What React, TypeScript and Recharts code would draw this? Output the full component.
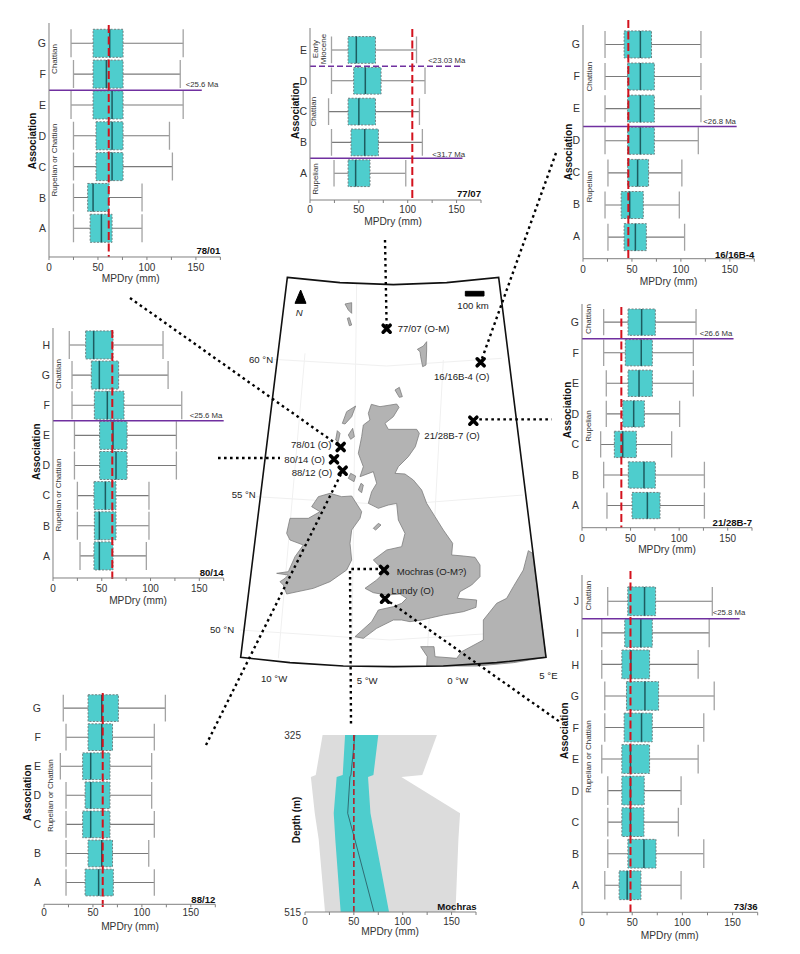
import { Area, Bar, ComposedChart, Line, ReferenceLine, Scatter, ScatterChart, XAxis, YAxis } from 'recharts';

const TEAL = '#4ecdcd';
const RED = '#d3121d';
const PURPLE = '#7030a0';
const FONT = '"Liberation Sans", Arial, sans-serif';
const xTicks = [0, 25, 50, 75, 100, 125, 150, 175];

const cats7 = ['A', 'B', 'C', 'D', 'E', 'F', 'G'];

// 78/01
const lo7801 = [25, 25, 25, 25, 22.5, 25, 22.5];
const q17801 = [42, 39.5, 48, 48, 45, 45, 45];
const med7801 = [53.5, 45, 64.4, 64.4, 64.4, 58.6, 62];
const q37801 = [64.4, 61.3, 75.6, 75.6, 75.6, 75.6, 75.6];
const hi7801 = [95, 95, 126, 123, 137, 134, 137];

// 77/07
const cats7707 = ['A', 'B', 'C', 'D', 'E'];
const lo7707 = [24.6, 22, 19, 22, 22];
const q17707 = [39, 42, 39, 44.7, 39];
const med7707 = [46.7, 56, 50, 56.6, 47.4];
const q37707 = [61.4, 70, 67, 72.7, 67];
const hi7707 = [98, 115, 112, 117.7, 109];

// 16/16B-4
const lo1616 = [25.5, 22.5, 25.5, 22.5, 22.5, 22.5, 22.5];
const q11616 = [42, 39, 45.6, 45.6, 45.6, 45.6, 42];
const med1616 = [53.5, 47.7, 55.8, 58.6, 58.6, 58.6, 58.6];
const q31616 = [64.7, 61.6, 67, 72.9, 72.9, 72.9, 70];
const hi1616 = [103.8, 98.4, 101, 117.8, 120.5, 120.5, 120.5];

// 80/14
const cats8014 = ['A', 'B', 'C', 'D', 'E', 'F', 'G', 'H'];
const lo8014 = [27.7, 25, 25, 22, 22, 19.5, 19.5, 16.7];
const q18014 = [42, 42.4, 42, 47.8, 47.8, 42.4, 39.3, 33.5];
const med8014 = [47.5, 47.5, 53.7, 64.6, 61.5, 55.7, 47.5, 41.7];
const q38014 = [61.5, 64.6, 64.6, 75.9, 75.9, 72.8, 67.3, 61.5];
const hi8014 = [95.7, 98.4, 98.4, 126.5, 126.5, 132, 118, 112.8];

// 21/28B-7
const lo2128 = [25.7, 22.3, 19.2, 25, 25, 22.3, 22.3];
const q12128 = [51.5, 47.7, 33.3, 41.9, 47.4, 44.6, 47.4];
const med2128 = [67.3, 63.8, 41.9, 53.2, 58.7, 61, 61.4];
const q32128 = [80.3, 75.5, 56, 64.2, 72.4, 72.4, 75.5];
const hi2128 = [126, 126, 92.3, 100.5, 114.6, 114.6, 117.4];

// 88/12
const lo8812 = [22.5, 22.5, 22.5, 22.5, 16.7, 22.5, 19.7];
const q18812 = [42, 45, 39.5, 42, 39.5, 45, 45];
const med8812 = [55.8, 59, 47.7, 47.7, 47.7, 59, 59];
const q38812 = [70.8, 70, 67.4, 67.4, 67.4, 70, 76];
const hi8812 = [112.7, 107, 112.7, 110, 110, 112.7, 124];

// 73/36
const cats7336 = ['A', 'B', 'C', 'D', 'E', 'F', 'G', 'H', 'I', 'J'];
const lo7336 = [22.7, 25.7, 25.7, 25.7, 19.7, 22.7, 22.7, 19.7, 19.7, 25.6];
const q17336 = [37, 45.7, 39.7, 39.7, 39.7, 42, 44.3, 39.7, 42.6, 45.6];
const med7336 = [45, 61.7, 48.3, 48.3, 48.3, 59.3, 62.7, 48.7, 58.6, 62.3];
const q37336 = [58.7, 73.7, 61.7, 62, 67.3, 70, 76.3, 67.3, 70, 73.3];
const hi7336 = [98.7, 121.3, 96, 98.7, 115.7, 121.3, 131.7, 115.7, 126.7, 129.8];

// Mochras depth profile
const mochrasDepth = [325, 368, 370, 409, 437, 515];
const mochrasMinLo = [18, 11, 6, 10, 14, 20.5];
const mochrasMaxHi = [135, 120, 98.6, 158.7, 157, 154];
const mochrasQ1 = [41, 38.6, 32.4, 29.4, 31, 36.5];
const mochrasQ3 = [75, 70, 64.5, 67, 72, 86];
const mochrasMedian = [51, 47, 46, 43.7, 51, 70.6];

const panels = [
  {
    id: '78/01', cats: cats7, lo: lo7801, q1: q17801, med: med7801, q3: q37801, hi: hi7801, mean: 61,
    left: 49.3, right: 220.7, top: 23, bottom: 257, rowTop: 43.7, rowA: 228.7, barH: 28, meanTop: 25, meanBottom: 257,
    lines: [{ pos: 5.49, end: 156 }],
    ages: [{ text: '<25.6 Ma', x: 186, y: 85 }],
    periods: [{ text: 'Chattian', x: 55, y: 59 }, { text: 'Rupelian or Chattian', x: 55, y: 160 }],
    assoc: [33, 141], mpdry: [131, 279], idY: 251, tickGap: 4,
  },
  {
    id: '77/07', cats: cats7707, lo: lo7707, q1: q17707, med: med7707, q3: q37707, hi: hi7707, mean: 104.7,
    left: 309.7, right: 480.7, top: 28, bottom: 200, rowTop: 50, rowA: 173.3, barH: 26.7, meanTop: 29, meanBottom: 200,
    lines: [{ pos: 4.47, end: 155, dash: '6 3' }, { pos: 1.49, end: 156 }],
    ages: [{ text: '<23.03 Ma', x: 428, y: 60.7 }, { text: '<31.7 Ma', x: 432, y: 154 }],
    periods: [{ text: 'Early', x: 314.7, y: 49 }, { text: 'Miocene', x: 323.3, y: 49 }, { text: 'Chattian', x: 313.7, y: 111.7 }, { text: 'Rupelian', x: 314.7, y: 179 }],
    assoc: [295, 110.7], mpdry: [392.7, 221], idY: 193.7, tickGap: 3,
  },
  {
    id: '16/16B-4', cats: cats7, lo: lo1616, q1: q11616, med: med1616, q3: q31616, hi: hi1616, mean: 46.3,
    left: 582.7, right: 754, top: 25, bottom: 258.7, rowTop: 44, rowA: 236.7, barH: 27, meanTop: 20, meanBottom: 259,
    lines: [{ pos: 4.43, end: 157 }],
    ages: [{ text: '<26.8 Ma', x: 703, y: 121.3 }],
    periods: [{ text: 'Chattian', x: 589, y: 76.7 }, { text: 'Rupelian', x: 589, y: 186.7 }],
    assoc: [568, 152], mpdry: [668.3, 282], idY: 254.3, tickGap: 4,
  },
  {
    id: '80/14', cats: cats8014, lo: lo8014, q1: q18014, med: med8014, q3: q38014, hi: hi8014, mean: 60.8,
    left: 53.3, right: 224, top: 328, bottom: 578, rowTop: 345, rowA: 556, barH: 28, meanTop: 330, meanBottom: 579,
    lines: [{ pos: 5.49, end: 175 }],
    ages: [{ text: '<25.6 Ma', x: 190, y: 415.7 }],
    periods: [{ text: 'Chattian', x: 59.3, y: 374 }, { text: 'Rupelian or Chattian', x: 59.3, y: 495 }],
    assoc: [36.7, 451.7], mpdry: [138.3, 601], idY: 573, tickGap: 4,
  },
  {
    id: '21/28B-7', cats: cats7, lo: lo2128, q1: q12128, med: med2128, q3: q32128, hi: hi2128, mean: 40.5,
    left: 582.3, right: 752.3, top: 304, bottom: 527.7, rowTop: 322.3, rowA: 505.7, barH: 26.3, meanTop: 307, meanBottom: 528,
    lines: [{ pos: 6.46, end: 156 }],
    ages: [{ text: '<26.6 Ma', x: 700, y: 334 }],
    periods: [{ text: 'Chattian', x: 588.7, y: 319 }, { text: 'Rupelian', x: 588.7, y: 426 }],
    assoc: [567.7, 410], mpdry: [667.3, 550], idY: 522.7, tickGap: 4,
  },
  {
    id: '88/12', cats: cats7, lo: lo8812, q1: q18812, med: med8812, q3: q38812, hi: hi8812, mean: 60,
    left: 44, right: 215.3, top: 692, bottom: 904.3, rowTop: 708.3, rowA: 882.7, barH: 26.7, meanTop: 693, meanBottom: 907,
    noAxisLine: true, lines: [], ages: [],
    periods: [{ text: 'Rupelian or Chattian', x: 50.7, y: 795.7 }],
    assoc: [27.7, 792.7], mpdry: [130, 926.7], idY: 899.7, tickGap: 2,
  },
  {
    id: '73/36', cats: cats7336, lo: lo7336, q1: q17336, med: med7336, q3: q37336, hi: hi7336, mean: 48.3,
    left: 582.3, right: 758, top: 575, bottom: 912.3, rowTop: 601.7, rowA: 885.7, barH: 28.7, meanTop: 571, meanBottom: 912,
    lines: [{ pos: 9.46, end: 157 }],
    ages: [{ text: '<25.8 Ma', x: 713, y: 613 }],
    periods: [{ text: 'Chattian', x: 588.7, y: 595.7 }, { text: 'Rupelian or Chattian', x: 588.7, y: 756.7 }],
    assoc: [565.3, 730.7], mpdry: [670, 935.7], idY: 906.7, tickGap: 4,
  },
];

// map outlines, in map units (3 per screen pixel)
const frame = [[172, 22], [330, 38], [490, 44], [650, 38], [806, 22], [948, 1162], [800, 1178], [640, 1188], [490, 1190], [340, 1188], [180, 1178], [32, 1162]];
const greatBritain = [[424, 403], [450, 410], [500, 402], [507, 412], [490, 440], [465, 460], [475, 478], [560, 478], [568, 490], [556, 530], [535, 560], [505, 590], [495, 610], [525, 612], [550, 630], [575, 660], [590, 700], [615, 740], [640, 780], [668, 820], [665, 855], [700, 858], [735, 862], [750, 885], [750, 920], [725, 945], [690, 965], [682, 985], [740, 990], [738, 1012], [700, 1025], [640, 1035], [575, 1050], [540, 1055], [515, 1050], [490, 1050], [440, 1075], [400, 1105], [375, 1100], [425, 1055], [445, 1020], [490, 1010], [515, 1000], [530, 985], [510, 972], [470, 975], [430, 968], [405, 955], [440, 930], [465, 905], [450, 890], [430, 870], [470, 840], [515, 830], [525, 790], [505, 750], [500, 700], [475, 705], [445, 715], [415, 700], [425, 665], [440, 640], [430, 605], [390, 620], [400, 590], [385, 550], [395, 500], [400, 465], [420, 450], [415, 430]];
const ireland = [[265, 680], [300, 670], [335, 680], [365, 678], [395, 725], [390, 745], [365, 780], [360, 820], [365, 870], [350, 900], [300, 935], [250, 955], [170, 972], [160, 945], [150, 935], [165, 925], [175, 915], [140, 910], [175, 905], [195, 860], [220, 825], [180, 810], [170, 790], [180, 745], [235, 745], [270, 725], [245, 710]];
const europe = [[895, 842], [908, 850], [948, 1162], [850, 1178], [740, 1188], [590, 1188], [592, 1160], [572, 1130], [612, 1130], [615, 1160], [680, 1165], [695, 1145], [760, 1110], [760, 1050], [800, 1000], [830, 985], [850, 950], [880, 900]];
const islands = [
  [[345, 102], [365, 98], [365, 130], [355, 120]],
  [[352, 145], [358, 143], [365, 165], [358, 167]],
  [[590, 215], [590, 240], [588, 285], [578, 290], [572, 260], [570, 245], [562, 238], [580, 228]],
  [[495, 360], [508, 352], [517, 380], [508, 382]],
  [[337, 460], [350, 425], [377, 408], [365, 440], [345, 462]],
  [[317, 510], [322, 482], [330, 490], [325, 515]],
  [[355, 495], [368, 475], [373, 500], [362, 508]],
  [[355, 625], [362, 610], [377, 618], [372, 635]],
  [[385, 660], [393, 640], [400, 645], [395, 668]],
  [[430, 775], [445, 760], [453, 765], [437, 780]],
];
const graticule = [
  [[130, 268], [470, 288], [815, 265]],
  [[78, 680], [490, 705], [880, 675]],
  [[30, 1080], [480, 1110], [945, 1080]],
  [[225, 250], [145, 1165]],
  [[380, 40], [365, 1185]],
  [[640, 270], [590, 1185]],
];
const northArrow = [[212, 60], [195, 100], [228, 100]];
const scaleBar = [[706, 64], [762, 64], [762, 78], [706, 78]];
const connectors = [
  [[465, -90], [470, 176]],
  [[978, -351], [752, 277]],
  [[730, 448], [965, 448]],
  [[-300, 84], [332, 531]],
  [[-36, 564], [150, 564]],
  [[-72, 1425], [338, 602]],
  [[462, 897], [360, 897], [363, 1365]],
  [[465, 986], [990, 1356]],
];
const sites = [
  { x: 470, y: 176 }, { x: 752, y: 277 }, { x: 730, y: 452 }, { x: 332, y: 531 },
  { x: 312, y: 568 }, { x: 338, y: 602 }, { x: 462, y: 900 }, { x: 465, y: 986 },
];
const mapLabels = [
  { x: 503, y: 176, name: '77/07 (O-M)' }, { x: 612, y: 320, name: '16/16B-4 (O)' },
  { x: 583, y: 496, name: '21/28B-7 (O)' }, { x: 183, y: 522, name: '78/01 (O)' },
  { x: 163, y: 567, name: '80/14 (O)' }, { x: 185, y: 606, name: '88/12 (O)' },
  { x: 500, y: 904, name: 'Mochras (O-M?)' }, { x: 484, y: 962, name: 'Lundy (O)' },
  { x: 57, y: 268, name: '60 °N' }, { x: 5, y: 672, name: '55 °N' }, { x: -60, y: 1077, name: '50 °N' },
  { x: 93, y: 1226, name: '10 °W' }, { x: 380, y: 1232, name: '5 °W' }, { x: 652, y: 1232, name: '0 °W' },
  { x: 928, y: 1216, name: '5 °E' }, { x: 682, y: 105, name: '100 km' }, { x: 197, y: 128, name: 'N', italic: true },
];

const toPoints = (ring: number[][]) => ring.map(([x, y]) => ({ x, y }));
const NoPoint = () => <g />;

const ringLine = (fill: string, stroke: string, strokeWidth = 1) => (p: any) => (
  <polygon points={p.points.map((q: any) => `${q.x},${q.y}`).join(' ')} fill={fill} stroke={stroke} strokeWidth={strokeWidth} />
);
const pathLine = (stroke: string, strokeWidth: number, dash?: string) => (p: any) => (
  <polyline points={p.points.map((q: any) => `${q.x},${q.y}`).join(' ')} fill="none" stroke={stroke} strokeWidth={strokeWidth} strokeDasharray={dash} />
);

const SiteCross = ({ cx, cy }: any) => (
  <path d={`M${cx - 3.5} ${cy - 3.5}L${cx + 3.5} ${cy + 3.5}M${cx - 3.5} ${cy + 3.5}L${cx + 3.5} ${cy - 3.5}`} stroke="#000" strokeWidth={3.6} strokeLinecap="round" />
);
const MapText = ({ cx, cy, payload }: any) => (
  <text x={cx} y={cy} fontSize={9.6} fill="#222" fontFamily={FONT} fontStyle={payload.italic ? 'italic' : 'normal'} dominantBaseline="central">{payload.name}</text>
);

function MapLayer() {
  return (
    <div style={{ position: 'absolute', left: 0, top: 0 }}>
      <ScatterChart width={800} height={954} margin={{ top: 0, right: 0, bottom: 0, left: 0 }}>
        <XAxis type="number" dataKey="x" domain={[-690, 1710]} allowDataOverflow hide />
        <YAxis type="number" dataKey="y" domain={[-810, 2052]} allowDataOverflow reversed hide />
        {graticule.map((g, i) => (
          <Scatter key={'g' + i} data={toPoints(g)} line={pathLine('#f0f0f0', 1)} shape={NoPoint} isAnimationActive={false} />
        ))}
        {[greatBritain, ireland, europe, ...islands].map((r, i) => (
          <Scatter key={'r' + i} data={toPoints(r)} line={ringLine('#b3b3b3', '#7d7d7d', 0.8)} shape={NoPoint} isAnimationActive={false} />
        ))}
        <Scatter data={toPoints(frame)} line={ringLine('none', '#111', 1.6)} shape={NoPoint} isAnimationActive={false} />
        <Scatter data={toPoints(northArrow)} line={ringLine('#000', '#000')} shape={NoPoint} isAnimationActive={false} />
        <Scatter data={toPoints(scaleBar)} line={ringLine('#000', '#000')} shape={NoPoint} isAnimationActive={false} />
        {connectors.map((c, i) => (
          <Scatter key={'c' + i} data={toPoints(c)} line={pathLine('#000', 2.4, '2.6 3.4')} shape={NoPoint} isAnimationActive={false} />
        ))}
        <Scatter data={sites} shape={SiteCross} isAnimationActive={false} />
        <Scatter data={mapLabels} shape={MapText} isAnimationActive={false} />
      </ScatterChart>
    </div>
  );
}

const BoxShape = ({ x, y, width, height, payload }: any) => {
  const k = width / (payload.q3 - payload.q1);
  const at = (v: number) => x + (v - payload.q1) * k;
  const mid = y + height / 2;
  return (
    <g>
      <line x1={at(payload.lo)} x2={at(payload.hi)} y1={mid} y2={mid} stroke="#7a7a7a" strokeWidth={1.1} />
      <line x1={at(payload.lo)} x2={at(payload.lo)} y1={y} y2={y + height} stroke="#a3a3a3" strokeWidth={1.3} />
      <line x1={at(payload.hi)} x2={at(payload.hi)} y1={y} y2={y + height} stroke="#a3a3a3" strokeWidth={1.3} />
      <rect x={x} y={y} width={width} height={height} fill={TEAL} stroke="#6f7f80" strokeWidth={1} strokeDasharray="2 1.5" />
      <line x1={at(payload.med)} x2={at(payload.med)} y1={y} y2={y + height} stroke="#1d5c60" strokeWidth={1.5} />
    </g>
  );
};

function PanelText({ x, y, children, size = 8, bold, rotate, anchor = 'middle', fill = '#333' }: any) {
  return (
    <text
      x={x}
      y={y}
      fontSize={size}
      fontWeight={bold ? 700 : 400}
      fontFamily={FONT}
      fill={fill}
      textAnchor={anchor}
      dominantBaseline="central"
      transform={rotate ? `rotate(-90 ${x} ${y})` : undefined}
    >
      {children}
    </text>
  );
}

function BoxPanel({ p }: { p: any }) {
  const n = p.cats.length;
  const ox = p.left - 50;
  const oy = p.top - 12;
  const unit = (p.rowA - p.rowTop) / (n - 1);
  const yDomain = [1 - (p.bottom - p.rowA) / unit, n + (p.rowTop - p.top) / unit];
  const toPos = (py: number) => 1 + (p.rowA - py) / unit;
  const rows = p.cats.map((c: string, i: number) => ({
    pos: i + 1, cat: c, lo: p.lo[i], q1: p.q1[i], med: p.med[i], q3: p.q3[i], hi: p.hi[i],
  }));
  const rowTicks = rows.map((r: any) => r.pos);

  return (
    <div style={{ position: 'absolute', left: ox, top: oy }}>
      <ComposedChart
        layout="vertical"
        width={50 + p.right - p.left + 12}
        height={12 + p.bottom - p.top + 42}
        data={rows}
        margin={{ top: 12, right: 12, bottom: 24, left: 30 }}
      >
        <XAxis
          type="number"
          domain={[0, 175]}
          ticks={xTicks}
          interval={0}
          height={18}
          tickSize={3}
          tickMargin={p.tickGap}
          stroke="#808080"
          tick={{ fill: '#333', fontSize: 10, fontFamily: FONT }}
          tickFormatter={(v: number) => (v % 50 === 0 ? String(v) : '')}
        />
        <YAxis
          type="number"
          dataKey="pos"
          width={20}
          domain={yDomain}
          reversed
          allowDataOverflow
          ticks={rowTicks}
          interval={0}
          tickSize={0}
          tickMargin={3}
          axisLine={p.noAxisLine ? false : { stroke: '#808080' }}
          tickLine={false}
          tick={{ fill: '#333', fontSize: 10.5, fontFamily: FONT }}
          tickFormatter={(v: number) => p.cats[v - 1] ?? ''}
        />
        <Bar dataKey={(r: any) => [r.q1, r.q3]} barSize={p.barH} shape={BoxShape} isAnimationActive={false} />
        {p.lines.map((l: any, i: number) => (
          <ReferenceLine
            key={i}
            segment={[{ x: 0, y: l.pos }, { x: l.end, y: l.pos }]}
            stroke={PURPLE}
            strokeWidth={1.5}
            strokeDasharray={l.dash}
            ifOverflow="visible"
          />
        ))}
        <ReferenceLine
          segment={[{ x: p.mean, y: toPos(p.meanTop) }, { x: p.mean, y: toPos(p.meanBottom) }]}
          stroke={RED}
          strokeWidth={2}
          strokeDasharray="8 3.5"
          ifOverflow="visible"
        />
        {p.periods.map((t: any) => (
          <PanelText key={t.text} x={t.x - ox} y={t.y - oy} rotate>{t.text}</PanelText>
        ))}
        {p.ages.map((t: any) => (
          <PanelText key={t.text} x={t.x - ox} y={t.y - oy} anchor="start" size={7.8}>{t.text}</PanelText>
        ))}
        <PanelText x={p.assoc[0] - ox} y={p.assoc[1] - oy} size={10} bold rotate fill="#111">Association</PanelText>
        <PanelText x={p.mpdry[0] - ox} y={p.mpdry[1] - oy} size={10.2}>MPDry (mm)</PanelText>
        <PanelText x={p.right - ox} y={p.idY - oy} size={9.6} bold anchor="end" fill="#111">{p.id}</PanelText>
      </ComposedChart>
    </div>
  );
}

function MochrasPanel() {
  const left = 305;
  const right = 476;
  const top = 735;
  const bottom = 912;
  const ox = left - 50;
  const oy = top - 12;
  const chartW = 50 + right - left + 12;
  const chartH = 12 + bottom - top + 42;
  const rows = mochrasDepth.map((depth, i) => ({
    depth,
    minMax: [mochrasMinLo[i], mochrasMaxHi[i]],
    iqr: [mochrasQ1[i], mochrasQ3[i]],
    median: mochrasMedian[i],
  }));

  return (
    <div style={{ position: 'absolute', left: ox, top: oy }}>
      <ComposedChart
        layout="vertical"
        width={chartW}
        height={chartH}
        data={rows}
        margin={{ top: 12, right: 12, bottom: 24, left: 30 }}
      >
        <XAxis
          type="number"
          domain={[0, 175]}
          ticks={xTicks}
          interval={0}
          height={18}
          tickSize={3}
          tickMargin={3}
          stroke="#808080"
          tick={{ fill: '#333', fontSize: 10, fontFamily: FONT }}
          tickFormatter={(v: number) => (v % 50 === 0 ? String(v) : '')}
        />
        <YAxis
          type="number"
          dataKey="depth"
          width={20}
          domain={[325, 515]}
          ticks={[325, 515]}
          interval={0}
          tickSize={0}
          tickMargin={4}
          axisLine={false}
          tickLine={false}
          tick={{ fill: '#333', fontSize: 10, fontFamily: FONT }}
        />
        <Area dataKey="minMax" type="linear" fill="#dcdcdc" fillOpacity={1} stroke="none" dot={false} isAnimationActive={false} />
        <Area dataKey="iqr" type="linear" fill={TEAL} fillOpacity={1} stroke="none" dot={false} isAnimationActive={false} />
        <Line dataKey="median" type="linear" stroke="#2f6d74" strokeWidth={1} dot={false} isAnimationActive={false} />
        <ReferenceLine x={50} stroke="#b3202a" strokeWidth={1.6} strokeDasharray="6 3" />
      </ComposedChart>
      {/* areas paint over svg children, so these labels sit in their own layer */}
      <svg width={chartW} height={chartH} style={{ position: 'absolute', left: 0, top: 0 }}>
        <PanelText x={296 - ox} y={820 - oy} size={10} bold rotate fill="#111">Depth (m)</PanelText>
        <PanelText x={390 - ox} y={931.7 - oy} size={10.2}>MPDry (mm)</PanelText>
        <PanelText x={476.7 - ox} y={906.7 - oy} size={9.6} bold anchor="end" fill="#111">Mochras</PanelText>
      </svg>
    </div>
  );
}

export default function App() {
  return (
    <div style={{ position: 'absolute', left: 0, top: 0, width: 800, height: 954, background: '#fff', overflow: 'hidden' }}>
      <MapLayer />
      {panels.map((p) => (
        <BoxPanel key={p.id} p={p} />
      ))}
      <MochrasPanel />
    </div>
  );
}
